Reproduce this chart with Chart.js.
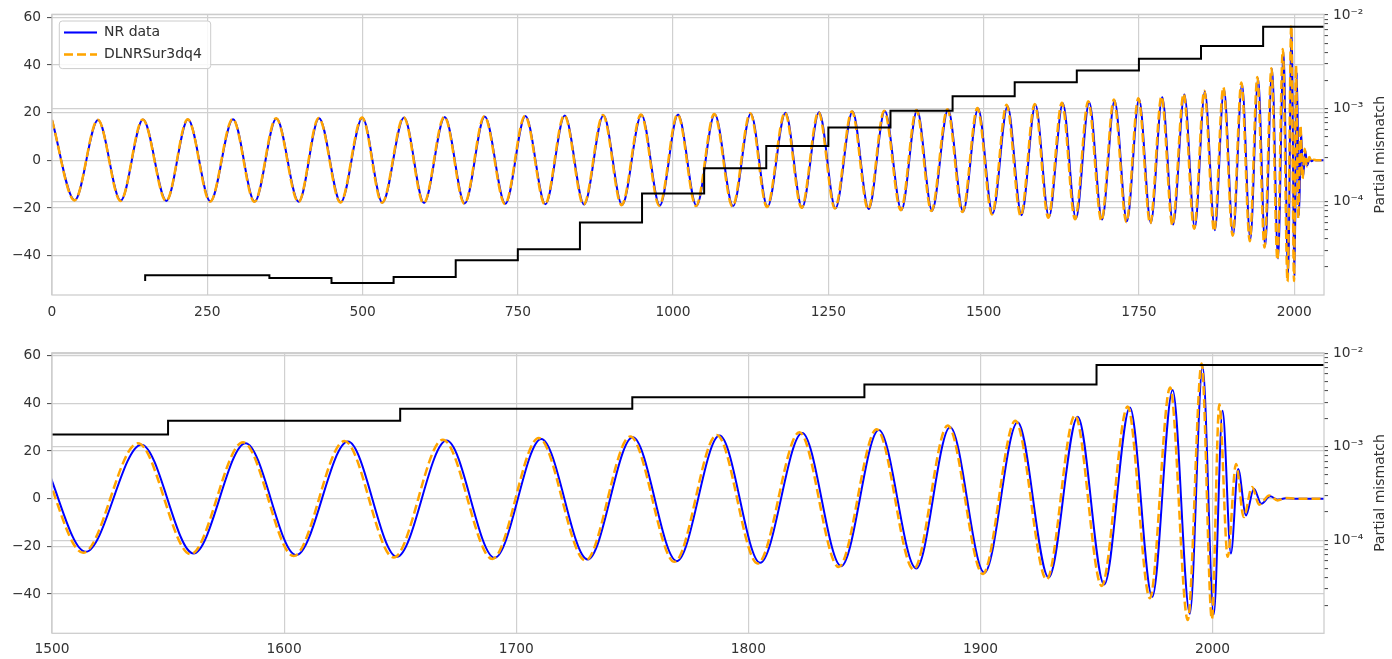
<!DOCTYPE html>
<html lang="en">
<head>
<meta charset="UTF-8">
<title>NR data vs DLNRSur3dq4</title>
<script src="https://cdn.jsdelivr.net/npm/chart.js"></script>
<style>
  body { margin: 0; background: #fff; }
  #wrap { position: relative; width: 1392px; height: 659px; }
  canvas { position: absolute; left: 0; }
</style>
</head>
<body>
<div id="wrap">
  <canvas id="topPanel" width="1392" height="330" style="top:0"></canvas>
  <canvas id="bottomPanel" width="1392" height="329" style="top:330px"></canvas>
</div>
<script>
// waveform extrema: [time, strain]
const nrPeaks = [
  [0, 16.9], [36.6, -16.7], [74.1, 16.9], [110.6, -16.9], [146.5, 17.1], [184.2, -17.0],
  [219, 17.2], [255, -17.2], [291.5, 17.3], [326.4, -17.3], [361.3, 17.6], [397.3, -17.4],
  [430, 17.7], [464.9, -17.6], [499.8, 17.9], [532, -17.7], [566.8, 18.0], [599, -17.9],
  [632.4, 18.2], [664.6, -18.1], [696.8, 18.4], [730, -18.2], [762.3, 18.6], [794.5, -18.4],
  [825.6, 18.8], [856.7, -18.5], [887.9, 18.9], [917.9, -18.7], [949.1, 19.1], [978.6, -18.9],
  [1008, 19.2], [1037.7, -19.1], [1067.1, 19.4], [1096.6, -19.2], [1125.1, 19.7], [1152, -19.5],
  [1181, 20.0], [1207.7, -19.8], [1235.1, 20.2], [1261.5, -20.1], [1288.9, 20.5], [1315.1, -20.4],
  [1340.9, 20.7], [1367.7, -20.8], [1392.9, 21.0], [1417, -21.1], [1442.8, 21.3], [1467, -21.5],
  [1491.1, 21.8], [1514.5, -22.3], [1538.5, 22.7], [1561, -23.0], [1583.4, 23.3], [1605.2, -23.7],
  [1627.5, 24.0], [1648.6, -24.4], [1670, 24.4], [1690.7, -24.8], [1710.8, 25.1], [1730.8, -25.5],
  [1750.2, 25.8], [1769.2, -26.2], [1787.6, 26.5], [1805.1, -26.9], [1823.2, 27.6], [1840, -28.3],
  [1856.2, 28.9], [1872.3, -29.3], [1886.9, 30.0], [1901.7, -31.1], [1916, 32.1], [1929.4, -33.1],
  [1941.9, 34.4], [1953.3, -36.0], [1964.4, 38.3], [1974, -41.2], [1982.8, 45.6], [1990.2, -48.3],
  [1995.7, 55.5], [2000.5, -48.6], [2004.3, 36.9], [2007.9, -23.0], [2011, 12.5], [2014.4, -7.0],
  [2017.8, 4.2], [2021, -2.1], [2024.8, 1.0], [2028, -0.4], [2031.5, 0.2], [2036, 0], [2050, 0]
];

const surPeaks = [
  [0, 16.9], [36.3, -16.8], [73.8, 17.0], [110.3, -17.0], [146.1, 17.2], [183.8, -17.1],
  [218.6, 17.3], [254.6, -17.3], [291, 17.4], [325.9, -17.4], [360.8, 17.7], [396.8, -17.5],
  [429.5, 17.8], [464.3, -17.7], [499.2, 18.0], [531.4, -17.8], [566.2, 18.1], [598.4, -18.0],
  [631.8, 18.3], [664, -18.2], [696.1, 18.5], [729.3, -18.3], [761.6, 18.7], [793.8, -18.5],
  [824.9, 18.9], [856, -18.6], [887.1, 19.0], [917.1, -18.8], [948.3, 19.2], [977.8, -19.0],
  [1007.2, 19.3], [1036.9, -19.2], [1066.2, 19.5], [1095.7, -19.3], [1124.2, 19.8], [1151.1, -19.6],
  [1180.1, 20.1], [1206.8, -19.9], [1234.1, 20.3], [1260.5, -20.2], [1287.9, 20.6], [1314.1, -20.5],
  [1339.9, 20.8], [1366.6, -20.9], [1391.8, 21.1], [1415.9, -21.3], [1441.7, 21.5], [1465.9, -21.7],
  [1490, 22.0], [1513.4, -22.7], [1537, 23.3], [1559.7, -23.3], [1582.3, 23.7], [1604.1, -24.1],
  [1626, 24.2], [1647.2, -24.7], [1668.4, 24.8], [1689.7, -25.3], [1709.7, 25.5], [1729.8, -25.9],
  [1749.1, 26.1], [1768.2, -26.5], [1786.4, 26.8], [1804, -27.2], [1822, 27.9], [1838.9, -28.7],
  [1855.3, 29.2], [1871.2, -29.7], [1885.9, 30.7], [1901, -31.6], [1915, 32.7], [1928.5, -33.9],
  [1940.7, 35.0], [1952.2, -36.6], [1963.4, 38.7], [1973, -41.8], [1981.7, 46.7], [1989.3, -50.9],
  [1995.3, 56.8], [1999.7, -50.6], [2002.9, 39.7], [2006.5, -24.4], [2010.1, 14.6], [2013.4, -7.7],
  [2017, 4.9], [2020.1, -2.5], [2024.4, 1.4], [2028, -0.7], [2031.5, 0.3], [2036, 0], [2050, 0]
];

// partial mismatch per window (step starts at each edge)
const stepEdges = [150, 150, 350, 450, 550, 650, 750, 850, 950, 1050, 1150, 1250, 1350, 1450, 1550, 1650, 1750, 1850, 1950, 2050];
const mismatch = [1.42e-5, 1.64e-5, 1.53e-5, 1.35e-5, 1.57e-5, 2.37e-5, 3.11e-5, 6.0e-5, 1.23e-4, 2.28e-4,
                  3.96e-4, 6.25e-4, 9.45e-4, 1.35e-3, 1.9e-3, 2.55e-3, 3.4e-3, 4.65e-3, 7.5e-3, 7.5e-3];

const xTicksTop = [0, 250, 500, 750, 1000, 1250, 1500, 1750, 2000];
const xTicksBottom = [1500, 1600, 1700, 1800, 1900, 2000];
const yTicks = [-40, -20, 0, 20, 40, 60];
const logDecades = [1e-4, 1e-3, 1e-2];
const logLabels = ['10⁻⁴', '10⁻³', '10⁻²'];

Chart.defaults.font.family = 'DejaVu Sans';
Chart.defaults.font.size = 13.8;
Chart.defaults.color = '#333';

const gridColor = '#d0d0d0';

function toXY(pairs) { return pairs.map(p => ({ x: p[0], y: p[1] })); }

function isDecade(v) {
  const e = Math.log10(v);
  return Math.abs(e - Math.round(e)) < 1e-6;
}

// minor + major log ticks between 1e-5 and 1e-2
function logTicks() {
  const out = [];
  for (let e = -5; e <= -3; e++) {
    for (let m = 1; m <= 9; m++) out.push(m * Math.pow(10, e));
  }
  out.push(1e-2);
  return out.filter(v => v >= 1.005e-5);
}

function makeDatasets() {
  return [
    {
      label: 'NR data', data: toXY(nrPeaks), yAxisID: 'y',
      borderColor: '#0000ff', borderWidth: 2, pointRadius: 0,
      cubicInterpolationMode: 'monotone', order: 3
    },
    {
      label: 'DLNRSur3dq4', data: toXY(surPeaks), yAxisID: 'y',
      borderColor: '#ffa500', borderWidth: 2.5, borderDash: [9, 4], pointRadius: 0,
      cubicInterpolationMode: 'monotone', order: 2
    },
    {
      label: 'Partial mismatch', data: stepEdges.map((x, i) => ({ x: x, y: mismatch[i] })), yAxisID: 'y2',
      borderColor: '#000', borderWidth: 2, pointRadius: 0, stepped: 'before', order: 1
    }
  ];
}

function makeScales(xMin, xTicks, xHeight, xPad) {
  return {
    x: {
      type: 'linear', min: xMin, max: 2048, bounds: 'data',
      afterBuildTicks: s => { s.ticks = xTicks.map(v => ({ value: v })); },
      afterFit: s => { s.height = xHeight; },
      ticks: { autoSkip: false, maxRotation: 0, padding: xPad, callback: v => String(v) },
      grid: { color: gridColor, lineWidth: 1.2, drawTicks: false },
      border: { display: false }
    },
    y: {
      type: 'linear', position: 'left', min: -56.5, max: 61.3, bounds: 'data',
      afterBuildTicks: s => { s.ticks = yTicks.map(v => ({ value: v })); },
      afterFit: s => { s.width = 52; },
      ticks: { padding: 6, callback: v => v < 0 ? '\u2212' + Math.abs(v) : String(v) },
      grid: { color: gridColor, lineWidth: 1.2, tickLength: 5, tickColor: '#444', tickWidth: 1 },
      border: { display: false }
    },
    y2: {
      type: 'logarithmic', position: 'right', min: 1.005e-5, max: 1.017e-2, bounds: 'data',
      afterBuildTicks: s => { s.ticks = logTicks().map(v => ({ value: v })); },
      afterFit: s => { s.width = 68; },
      ticks: {
        autoSkip: false, padding: 5,
        callback: v => {
          const i = logDecades.findIndex(d => Math.abs(d - v) / d < 1e-6);
          return i >= 0 ? logLabels[i] : '';
        }
      },
      grid: {
        color: c => (c.tick && isDecade(c.tick.value)) ? gridColor : 'rgba(0,0,0,0)',
        lineWidth: 1.2, tickLength: 4, tickColor: '#444', tickWidth: 1
      },
      border: { display: false }
    }
  };
}

// axes frame and the right-hand axis title
const framePlugin = {
  id: 'frame',
  afterDatasetsDraw(chart) {
    const { ctx, chartArea: a } = chart;
    ctx.save();
    ctx.strokeStyle = '#cccccc';
    ctx.lineWidth = 1.25;
    ctx.strokeRect(a.left, a.top, a.right - a.left, a.bottom - a.top);
    ctx.restore();
  },
  afterDraw(chart) {
    const { ctx, chartArea: a } = chart;
    ctx.save();
    ctx.translate(1380, (a.top + a.bottom) / 2);
    ctx.rotate(-Math.PI / 2);
    ctx.font = '14px "DejaVu Sans"';
    ctx.fillStyle = '#333';
    ctx.textAlign = 'center';
    ctx.textBaseline = 'middle';
    ctx.fillText('Partial mismatch', 0, 0);
    ctx.restore();
  }
};

// legend in the upper left corner with a framed box, drawn on top like matplotlib
const legendBoxPlugin = {
  id: 'legendBox',
  afterLayout(chart) {
    const lg = chart.legend, a = chart.chartArea;
    lg.left = a.left + 4;
    lg.top = a.top + 3.3;
    lg.right = a.right;
    lg.bottom = a.bottom;
  },
  afterDraw(chart) {
    const lg = chart.legend, ctx = chart.ctx;
    ctx.save();
    ctx.beginPath();
    ctx.roundRect(lg.left + 3.3, lg.top + 3.4, 151.4, 47.6, 3);
    ctx.fillStyle = 'rgba(255,255,255,0.85)';
    ctx.fill();
    ctx.strokeStyle = '#cccccc';
    ctx.lineWidth = 1;
    ctx.stroke();
    ctx.restore();
    lg.draw();
  }
};

// default labels, but keep each dataset's dash pattern on the handle
function legendLabels(chart) {
  return Chart.defaults.plugins.legend.labels.generateLabels(chart).map(item => {
    const ds = chart.data.datasets[item.datasetIndex];
    item.lineDash = ds.borderDash || [];
    item.lineWidth = ds.borderWidth;
    item.strokeStyle = ds.borderColor;
    return item;
  });
}

new Chart(document.getElementById('topPanel'), {
  type: 'line',
  data: { datasets: makeDatasets() },
  options: {
    responsive: false, animation: false, devicePixelRatio: 1,
    layout: { padding: { top: 14.3, left: 0, right: 0, bottom: 0 } },
    scales: makeScales(0, xTicksTop, 35, 9),
    plugins: {
      tooltip: { enabled: false },
      legend: {
        position: 'chartArea', align: 'start',
        labels: {
          generateLabels: legendLabels,
          filter: item => item.datasetIndex < 2,
          sort: (a, b) => a.datasetIndex - b.datasetIndex,
          usePointStyle: true, pointStyle: 'line', pointStyleWidth: 33,
          padding: 8, color: '#333', font: { size: 14 }
        }
      }
    }
  },
  plugins: [framePlugin, legendBoxPlugin]
});

new Chart(document.getElementById('bottomPanel'), {
  type: 'line',
  data: { datasets: makeDatasets() },
  options: {
    responsive: false, animation: false, devicePixelRatio: 1,
    layout: { padding: { top: 22.7, left: 0, right: 0, bottom: 0 } },
    scales: makeScales(1500, xTicksBottom, 25.7, 8),
    plugins: { tooltip: { enabled: false }, legend: { display: false } }
  },
  plugins: [framePlugin]
});
</script>
</body>
</html>
